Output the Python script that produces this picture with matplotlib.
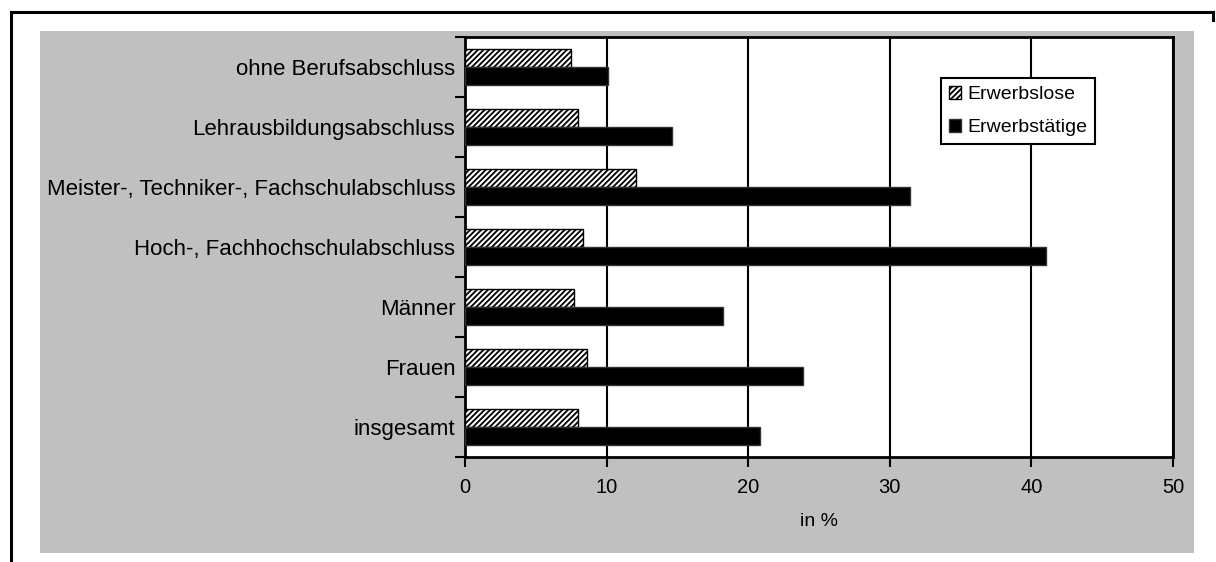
import numpy as np
import matplotlib
matplotlib.use("Agg")
import matplotlib.pyplot as plt
from matplotlib.patches import Rectangle
from matplotlib.lines import Line2D

plt.rcParams['font.family'] = ['Liberation Sans', 'DejaVu Sans']
plt.rcParams['hatch.linewidth'] = 1.3

# Kategorien von unten nach oben
kategorien = ['insgesamt', 'Frauen', 'Männer', 'Hoch-, Fachhochschulabschluss',
              'Meister-, Techniker-, Fachschulabschluss', 'Lehrausbildungsabschluss',
              'ohne Berufsabschluss']
erwerbslose = [8.0, 8.6, 7.7, 8.3, 12.1, 7.95, 7.5]
erwerbstaetige = [20.8, 23.85, 18.2, 41.0, 31.4, 14.6, 10.1]
x_ticks = [0, 10, 20, 30, 40, 50]

W, H = 1216, 562
fig = plt.figure(figsize=(W / 100, H / 100), dpi=100)
fig.patch.set_facecolor('white')

# grauer Diagrammbereich
fig.patches.append(Rectangle((40 / W, 1 - 553 / H), (1194 - 40) / W, (553 - 31) / H,
                             transform=fig.transFigure, facecolor='#c0c0c0',
                             edgecolor='none', zorder=-5))
# Rahmenlinien oben / links / rechts
for xs, ys in [([11, 1213], [12, 12]), ([11, 11], [12, 562]), ([1213, 1213], [12, 20])]:
    fig.lines.append(Line2D([x / W for x in xs], [1 - y / H for y in ys],
                            transform=fig.transFigure, color='black', lw=2.2,
                            zorder=-4))

ax = fig.add_axes([465 / W, 1 - 457 / H, (1173 - 465) / W, (457 - 37) / H])
ax.set_zorder(2)
ax.set_facecolor('white')

y = np.arange(len(kategorien))
h = 0.3
ax.barh(y + h / 2, erwerbslose, height=h, color='white', edgecolor='black',
        hatch='//////', linewidth=1.0, label='Erwerbslose', zorder=3)
ax.barh(y - h / 2, erwerbstaetige, height=h, color='black', edgecolor='#333333',
        linewidth=1.0, label='Erwerbstätige', zorder=3)

ax.set_xlim(0, 50)
ax.set_ylim(-0.5, len(kategorien) - 0.5)
ax.set_xticks(x_ticks)
ax.set_xticklabels([str(t) for t in x_ticks], fontsize=14.5)
ax.xaxis.grid(True, color='black', linewidth=1.5, zorder=1)
ax.set_axisbelow(True)

# Striche an den Kategoriegrenzen, Beschriftung in der Mitte
ax.set_yticks(np.arange(-0.5, len(kategorien), 1.0))
ax.set_yticklabels([])
ax.set_yticks(y, minor=True)
ax.set_yticklabels(kategorien, minor=True, fontsize=16)
ax.tick_params(axis='y', which='minor', length=0, pad=7)
ax.tick_params(axis='both', which='major', length=7, width=1.5, direction='out')
ax.tick_params(axis='x', pad=8)

for s in ax.spines.values():
    s.set_linewidth(2)
    s.set_color('black')

ax.set_xlabel('in %', fontsize=14, labelpad=12)

leg = ax.legend(loc='upper left', bbox_to_anchor=(941 / W, 1 - 78 / H),
                bbox_transform=fig.transFigure, fontsize=14, frameon=True,
                fancybox=False, framealpha=1, edgecolor='black',
                handlelength=0.65, handleheight=0.65, handletextpad=0.3,
                borderpad=0.4, labelspacing=0.8, borderaxespad=0)
leg.get_frame().set_linewidth(1.5)

fig.savefig('out.png', dpi=100)
